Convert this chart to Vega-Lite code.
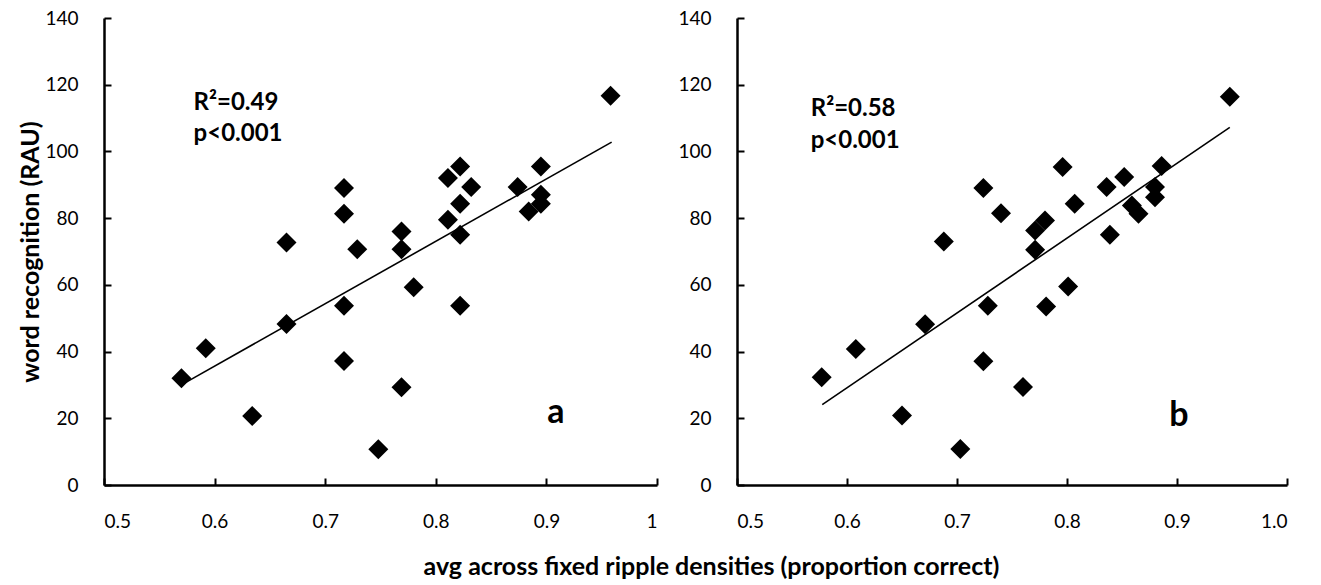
{
  "$schema": "https://vega.github.io/schema/vega-lite/v6.json",
  "background": "white",
  "padding": {"left": 18, "top": 9, "right": 10, "bottom": 5},
  "bounds": "flush",
  "spacing": 80,
  "datasets": {
    "pts": [
      {"panel": "a", "x": 0.570, "y": 32.0},
      {"panel": "a", "x": 0.592, "y": 41.0},
      {"panel": "a", "x": 0.634, "y": 20.7},
      {"panel": "a", "x": 0.665, "y": 72.7},
      {"panel": "a", "x": 0.665, "y": 48.3},
      {"panel": "a", "x": 0.717, "y": 89.0},
      {"panel": "a", "x": 0.717, "y": 81.3},
      {"panel": "a", "x": 0.729, "y": 70.7},
      {"panel": "a", "x": 0.717, "y": 53.7},
      {"panel": "a", "x": 0.717, "y": 37.2},
      {"panel": "a", "x": 0.769, "y": 76.0},
      {"panel": "a", "x": 0.769, "y": 70.7},
      {"panel": "a", "x": 0.780, "y": 59.3},
      {"panel": "a", "x": 0.769, "y": 29.3},
      {"panel": "a", "x": 0.748, "y": 10.7},
      {"panel": "a", "x": 0.958, "y": 116.7},
      {"panel": "a", "x": 0.895, "y": 95.5},
      {"panel": "a", "x": 0.822, "y": 95.5},
      {"panel": "a", "x": 0.811, "y": 92.0},
      {"panel": "a", "x": 0.832, "y": 89.3},
      {"panel": "a", "x": 0.874, "y": 89.3},
      {"panel": "a", "x": 0.822, "y": 84.3},
      {"panel": "a", "x": 0.895, "y": 87.0},
      {"panel": "a", "x": 0.895, "y": 84.3},
      {"panel": "a", "x": 0.884, "y": 82.0},
      {"panel": "a", "x": 0.811, "y": 79.5},
      {"panel": "a", "x": 0.822, "y": 75.0},
      {"panel": "a", "x": 0.822, "y": 53.7},
      {"panel": "b", "x": 0.577, "y": 32.3},
      {"panel": "b", "x": 0.608, "y": 40.8},
      {"panel": "b", "x": 0.650, "y": 20.8},
      {"panel": "b", "x": 0.671, "y": 48.2},
      {"panel": "b", "x": 0.688, "y": 73.0},
      {"panel": "b", "x": 0.724, "y": 89.0},
      {"panel": "b", "x": 0.740, "y": 81.5},
      {"panel": "b", "x": 0.728, "y": 53.7},
      {"panel": "b", "x": 0.724, "y": 37.1},
      {"panel": "b", "x": 0.703, "y": 10.8},
      {"panel": "b", "x": 0.760, "y": 29.4},
      {"panel": "b", "x": 0.948, "y": 116.4},
      {"panel": "b", "x": 0.796, "y": 95.3},
      {"panel": "b", "x": 0.807, "y": 84.3},
      {"panel": "b", "x": 0.780, "y": 79.3},
      {"panel": "b", "x": 0.771, "y": 76.3},
      {"panel": "b", "x": 0.771, "y": 70.5},
      {"panel": "b", "x": 0.839, "y": 75.0},
      {"panel": "b", "x": 0.836, "y": 89.3},
      {"panel": "b", "x": 0.852, "y": 92.3},
      {"panel": "b", "x": 0.886, "y": 95.6},
      {"panel": "b", "x": 0.880, "y": 89.3},
      {"panel": "b", "x": 0.880, "y": 86.3},
      {"panel": "b", "x": 0.859, "y": 83.8},
      {"panel": "b", "x": 0.865, "y": 81.3},
      {"panel": "b", "x": 0.801, "y": 59.5},
      {"panel": "b", "x": 0.781, "y": 53.5}
    ],
    "fit": [
      {"panel": "a", "x": 0.572, "y": 30.4},
      {"panel": "a", "x": 0.959, "y": 102.8},
      {"panel": "b", "x": 0.5775, "y": 24.1},
      {"panel": "b", "x": 0.948, "y": 107.2}
    ],
    "stats": [
      {"panel": "a", "x": 0.581, "y": 112.5, "label": "R²=0.49"},
      {"panel": "a", "x": 0.581, "y": 103.0, "label": "p<0.001"},
      {"panel": "b", "x": 0.567, "y": 110.7, "label": "R²=0.58"},
      {"panel": "b", "x": 0.567, "y": 100.9, "label": "p<0.001"}
    ],
    "letters": [
      {"panel": "a", "x": 0.9086, "y": 18.6, "label": "a"},
      {"panel": "b", "x": 0.9018, "y": 17.6, "label": "b"}
    ]
  },
  "config": {
    "font": "Lato",
    "view": {"stroke": null},
    "axis": {
      "grid": false,
      "domainColor": "black",
      "domainWidth": 2.5,
      "tickColor": "black",
      "tickWidth": 2,
      "tickSize": -7,
      "labelFont": "Lato",
      "labelFontSize": 19,
      "labelColor": "black",
      "titleFont": "Lato",
      "titleFontSize": 25,
      "titleFontWeight": "bold",
      "titleColor": "black"
    },
    "axisX": {"labelPadding": 34},
    "axisY": {"labelPadding": 33}
  },
  "hconcat": [
    {
      "width": 553,
      "height": 467,
      "encoding": {
        "x": {"field": "x", "type": "quantitative", "scale": {"domain": [0.5, 1], "nice": false, "zero": false},
              "axis": {"values": [0.5, 0.6, 0.7, 0.8, 0.9, 1], "format": "~g",
                       "title": "avg across fixed ripple densities (proportion correct)",
                       "titleX": 607, "titleY": 81, "titleAlign": "center", "titleBaseline": "middle", "titleFontSize": 25}},
        "y": {"field": "y", "type": "quantitative", "scale": {"domain": [0, 140], "nice": false},
              "axis": {"values": [0, 20, 40, 60, 80, 100, 120, 140], "title": "word recognition (RAU)", "titlePadding": 1}}
      },
      "layer": [
        {"data": {"name": "fit"}, "transform": [{"filter": "datum.panel === 'a'"}],
         "mark": {"type": "line", "color": "black", "strokeWidth": 1.6}},
        {"data": {"name": "pts"}, "transform": [{"filter": "datum.panel === 'a'"}],
         "mark": {"type": "point", "shape": "diamond", "filled": true, "color": "black", "opacity": 1, "size": 400}},
        {"data": {"name": "stats"}, "transform": [{"filter": "datum.panel === 'a'"}],
         "mark": {"type": "text", "align": "left", "baseline": "alphabetic", "fontSize": 24, "fontWeight": "bold", "color": "black", "font": "Lato"},
         "encoding": {"text": {"field": "label"}}},
        {"data": {"name": "letters"}, "transform": [{"filter": "datum.panel === 'a'"}],
         "mark": {"type": "text", "align": "center", "baseline": "alphabetic", "fontSize": 34, "fontWeight": "bold", "color": "black", "font": "Lato"},
         "encoding": {"text": {"field": "label"}}}
      ]
    },
    {
      "width": 550,
      "height": 467,
      "encoding": {
        "x": {"field": "x", "type": "quantitative", "scale": {"domain": [0.5, 1], "nice": false, "zero": false},
              "axis": {"values": [0.5, 0.6, 0.7, 0.8, 0.9, 1], "format": ".1f", "title": null}},
        "y": {"field": "y", "type": "quantitative", "scale": {"domain": [0, 140], "nice": false},
              "axis": {"values": [0, 20, 40, 60, 80, 100, 120, 140], "title": null}}
      },
      "layer": [
        {"data": {"name": "fit"}, "transform": [{"filter": "datum.panel === 'b'"}],
         "mark": {"type": "line", "color": "black", "strokeWidth": 1.6}},
        {"data": {"name": "pts"}, "transform": [{"filter": "datum.panel === 'b'"}],
         "mark": {"type": "point", "shape": "diamond", "filled": true, "color": "black", "opacity": 1, "size": 400}},
        {"data": {"name": "stats"}, "transform": [{"filter": "datum.panel === 'b'"}],
         "mark": {"type": "text", "align": "left", "baseline": "alphabetic", "fontSize": 24, "fontWeight": "bold", "color": "black", "font": "Lato"},
         "encoding": {"text": {"field": "label"}}},
        {"data": {"name": "letters"}, "transform": [{"filter": "datum.panel === 'b'"}],
         "mark": {"type": "text", "align": "center", "baseline": "alphabetic", "fontSize": 34, "fontWeight": "bold", "color": "black", "font": "Lato"},
         "encoding": {"text": {"field": "label"}}}
      ]
    }
  ]
}
